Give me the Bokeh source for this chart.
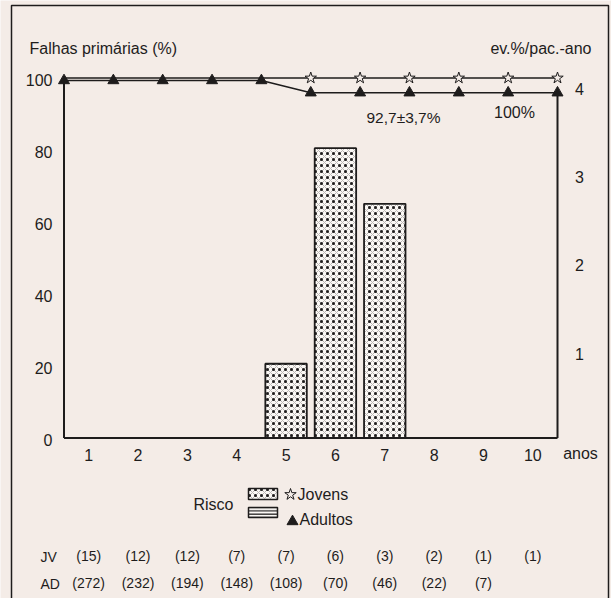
from bokeh.plotting import figure
from bokeh.models import Range1d
from bokeh.embed import file_html
from bokeh.resources import INLINE
from bokeh.core.properties import value

# ---------------- data ----------------
years = [0, 1, 2, 3, 4, 5, 6, 7, 8, 9, 10]
jovens_pct = [100, 100, 100, 100, 100, 100, 100, 100, 100, 100, 100]
adultos_pct = [99.3, 99.3, 99.3, 99.3, 99.3, 95.9, 95.9, 95.9, 95.9, 95.9, 95.9]
risk_years = [5, 6, 7]
risk_jovens = [0.84, 3.28, 2.65]          # ev.%/pac.-ano
year_labels = ["1", "2", "3", "4", "5", "6", "7", "8", "9", "10"]
y_ticks = [0, 20, 40, 60, 80, 100]
right_ticks = [1, 2, 3, 4]
jv_at_risk = ["(15)", "(12)", "(12)", "(7)", "(7)", "(6)", "(3)", "(2)", "(1)", "(1)"]
ad_at_risk = ["(272)", "(232)", "(194)", "(148)", "(108)", "(70)", "(46)", "(22)", "(7)"]

# ---------------- layout / style ----------------
W, H = 611, 598
X0PX, XPX = 63.5, 49.35      # pixel of year 0, pixels per year
Y0PX, YPX = 437.5, 3.6       # pixel of 0 %, pixels per %
RPX = 88.375                 # pixels per ev.%/pac.-ano
PAPER = "#f4ece7"
INK = "#1e1c1c"
FONT = value("Liberation Sans")
DOTS = dict(hatch_pattern="dot", hatch_scale=6, hatch_weight=2.6, hatch_color=INK)
MESH = dict(hatch_pattern="diagonal_cross", hatch_scale=6, hatch_weight=0.6, hatch_color="#8a8585")


def dx(px):
    return (px - X0PX) / XPX


def dy(py):
    return (Y0PX - py) / YPX


p = figure(width=W, height=H, x_range=Range1d(dx(0), dx(W)), y_range=Range1d(dy(H), dy(0)),
           toolbar_location=None, output_backend="svg", min_border=0,
           x_axis_location=None, y_axis_location=None)
p.extra_y_ranges = {"risk": Range1d((Y0PX - H) / RPX, Y0PX / RPX)}
p.xgrid.visible = False
p.ygrid.visible = False
p.outline_line_color = None
p.background_fill_color = PAPER
p.border_fill_color = PAPER

# outer box of the figure
p.quad(left=[dx(11)], right=[dx(608)], top=[dy(5)], bottom=[dy(615)],
       fill_color=None, line_color=INK, line_width=1.5)

# risk bars (Jovens)
bar_x = [y - 0.5 for y in risk_years]
p.vbar(x=bar_x, top=risk_jovens, bottom=0, width=0.84, y_range_name="risk",
       fill_color="#fbf8f5", line_color=None, **MESH)
p.vbar(x=bar_x, top=risk_jovens, bottom=0, width=0.84, y_range_name="risk",
       fill_color=None, line_color=INK, line_width=1.8, **DOTS)

# frame lines (left axis, bottom axis, right line)
p.segment(x0=[years[0], years[0], years[-1]], y0=[0, 0, 0],
          x1=[years[0], years[-1], years[-1]], y1=[y_ticks[-1], 0, adultos_pct[-1]],
          line_color=INK, line_width=2)

# survival curves
p.line(years, jovens_pct, line_color=INK, line_width=1.5)
p.line(years, adultos_pct, line_color=INK, line_width=1.5)
p.scatter(years[5:], jovens_pct[5:], marker="star", size=12,
          fill_color=PAPER, line_color=INK, line_width=1)
p.scatter(years, adultos_pct, marker="triangle", size=11,
          fill_color=INK, line_color=INK)

# axis tick labels
p.text(x=[dx(52)] * len(y_ticks), y=y_ticks, text=[str(t) for t in y_ticks],
       y_offset=2, text_font=FONT, text_font_size="16px", text_align="right",
       text_baseline="middle", text_color=INK)
p.text(x=[y - 0.5 for y in years[1:]], y=[dy(454)] * len(year_labels), text=year_labels,
       text_font=FONT, text_font_size="16px", text_align="center",
       text_baseline="middle", text_color=INK)
p.text(x=[dx(579)] * len(right_ticks), y=right_ticks, text=[str(t) for t in right_ticks],
       y_range_name="risk", y_offset=4, text_font=FONT, text_font_size="16px",
       text_align="center", text_baseline="middle", text_color=INK)

# titles / annotations
p.text(x=[dx(29)], y=[dy(48)], text=["Falhas primárias (%)"], text_font=FONT,
       text_font_size="16px", text_align="left", text_baseline="middle", text_color=INK)
p.text(x=[dx(591)], y=[dy(48)], text=["ev.%/pac.-ano"], text_font=FONT,
       text_font_size="16px", text_align="right", text_baseline="middle", text_color=INK)
p.text(x=[dx(580)], y=[dy(453)], text=["anos"], text_font=FONT,
       text_font_size="16px", text_align="center", text_baseline="middle", text_color=INK)
p.text(x=[dx(403)], y=[dy(117)], text=["92,7±3,7%"], text_font=FONT,
       text_font_size="15.5px", text_align="center", text_baseline="middle", text_color=INK)
p.text(x=[dx(514)], y=[dy(112)], text=["100%"], text_font=FONT,
       text_font_size="16px", text_align="center", text_baseline="middle", text_color=INK)

# legend
p.text(x=[dx(193)], y=[dy(504)], text=["Risco"], text_font=FONT, text_font_size="16px",
       text_align="left", text_baseline="middle", text_color=INK)
p.quad(left=[dx(248)], right=[dx(277)], top=[dy(488)], bottom=[dy(499)],
       fill_color="#fbf8f5", line_color=None, **MESH)
p.quad(left=[dx(248)], right=[dx(277)], top=[dy(488)], bottom=[dy(499)],
       fill_color=None, line_color=INK, line_width=1.5, **DOTS)
p.quad(left=[dx(248)], right=[dx(277)], top=[dy(507)], bottom=[dy(517)],
       fill_color="#fbf8f5", line_color=INK, line_width=1.5,
       hatch_pattern="horizontal_line", hatch_scale=3.3, hatch_weight=1.2, hatch_color=INK)
p.scatter([dx(290)], [dy(494)], marker="star", size=12, fill_color=PAPER,
          line_color=INK, line_width=1)
p.scatter([dx(292)], [dy(521)], marker="triangle", size=11, fill_color=INK, line_color=INK)
p.text(x=[dx(297)], y=[dy(494)], text=["Jovens"], text_font=FONT, text_font_size="16px",
       text_align="left", text_baseline="middle", text_color=INK)
p.text(x=[dx(299)], y=[dy(519)], text=["Adultos"], text_font=FONT, text_font_size="16px",
       text_align="left", text_baseline="middle", text_color=INK)

# patients at risk
p.text(x=[dx(40)], y=[dy(556)], text=["JV"], text_font=FONT, text_font_size="14px",
       text_align="left", text_baseline="middle", text_color=INK)
p.text(x=[dx(40)], y=[dy(583)], text=["AD"], text_font=FONT, text_font_size="14px",
       text_align="left", text_baseline="middle", text_color=INK)
p.text(x=[y - 0.5 for y in years[1:len(jv_at_risk) + 1]], y=[dy(555)] * len(jv_at_risk),
       text=jv_at_risk, text_font=FONT, text_font_size="14px", text_align="center",
       text_baseline="middle", text_color=INK)
p.text(x=[y - 0.5 for y in years[1:len(ad_at_risk) + 1]], y=[dy(582)] * len(ad_at_risk),
       text=ad_at_risk, text_font=FONT, text_font_size="14px", text_align="center",
       text_baseline="middle", text_color=INK)

open("out.html", "w").write(file_html(p, INLINE))
